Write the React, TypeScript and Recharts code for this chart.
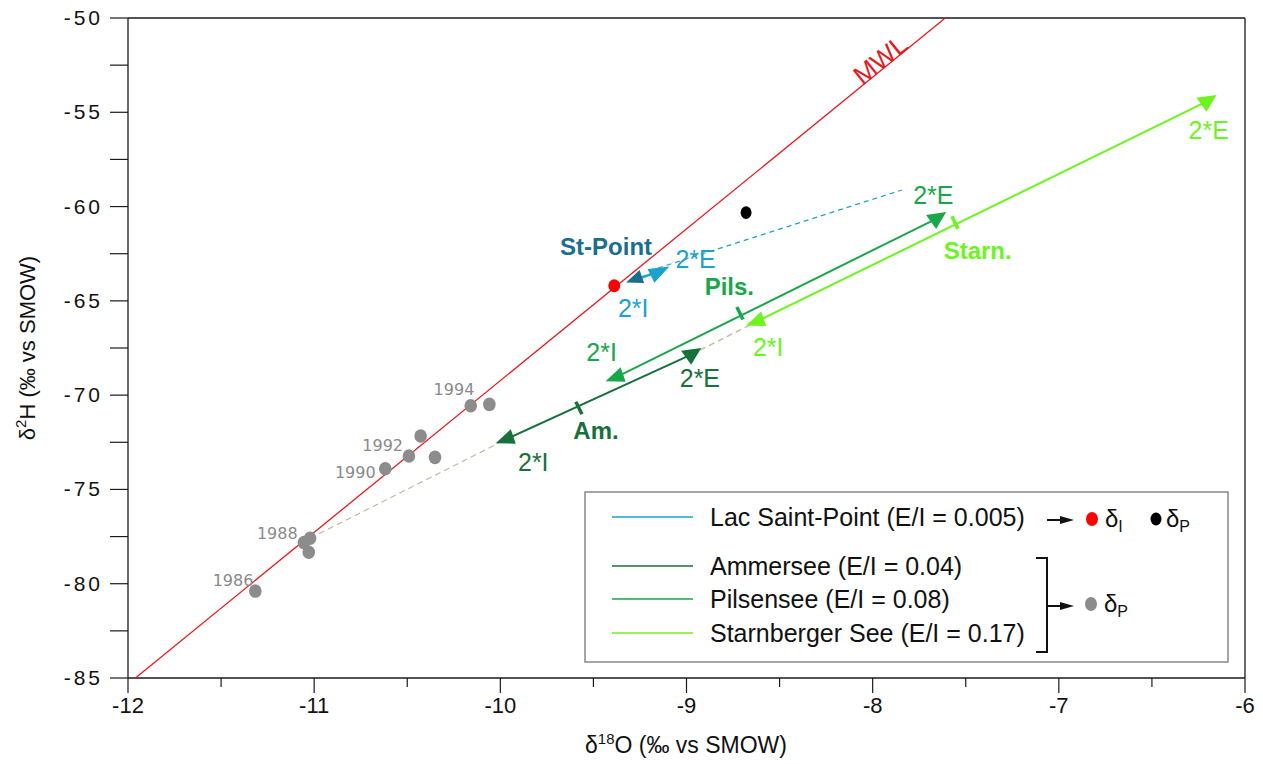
import React from "react";
import { ScatterChart, Scatter, XAxis, YAxis, ReferenceLine } from "recharts";

// δ18O (o) / δ2H (h) pairs
const xTicks = [-12, -11.5, -11, -10.5, -10, -9.5, -9, -8.5, -8, -7.5, -7, -6.5, -6];
const yTicks = [-85, -82.5, -80, -77.5, -75, -72.5, -70, -67.5, -65, -62.5, -60, -57.5, -55, -52.5, -50];

const mwl = [{ o: -11.96, h: -85 }, { o: -7.61, h: -50 }];

// yearly precipitation (δP) of the Bavarian lakes
const precip = [
  { o: -11.316, h: -80.39 },
  { o: -11.055, h: -77.82 },
  { o: -11.022, h: -77.59 },
  { o: -11.029, h: -78.33 },
  { o: -10.618, h: -73.9 },
  { o: -10.491, h: -73.23 },
  { o: -10.351, h: -73.3 },
  { o: -10.428, h: -72.17 },
  { o: -10.159, h: -70.56 },
  { o: -10.059, h: -70.49 },
];
const precipYears = [
  { o: -11.436, h: -79.8, text: "1986" },
  { o: -11.198, h: -77.33, text: "1988" },
  { o: -10.779, h: -74.11, text: "1990" },
  { o: -10.632, h: -72.66, text: "1992" },
  { o: -10.249, h: -69.69, text: "1994" },
];

// Lac Saint-Point
const stPointInput = [{ o: -9.388, h: -64.2 }];
const stPointPrecip = [{ o: -8.68, h: -60.32 }];
const stPointLine = [{ o: -9.3, h: -63.95 }, { o: -9.13, h: -63.4 }];
const stPointI = [{ o: -9.268, h: -63.81 }];
const stPointE = [{ o: -9.16, h: -63.55 }];
const stPointDash = [{ o: -9.153, h: -63.26 }, { o: -7.843, h: -59.12 }];

// Bavarian lakes: 2*I end, 2*E end, lake value
const ammersee = [{ o: -9.962, h: -72.31 }, { o: -8.975, h: -67.85 }];
const ammerseeLake = [{ o: -9.578, h: -70.68 }];
const pilsensee = [{ o: -9.372, h: -69.02 }, { o: -7.659, h: -60.65 }];
const pilsenseeLake = [{ o: -8.713, h: -65.66 }];
const starnberg = [{ o: -8.617, h: -66.07 }, { o: -6.207, h: -54.44 }];
const starnbergLake = [{ o: -7.558, h: -60.85 }];

const greyDashA = [{ o: -11.022, h: -77.59 }, { o: -9.962, h: -72.31 }];
const greyDashB = [{ o: -8.975, h: -67.85 }, { o: -8.617, h: -66.07 }];

const endLabels = [
  { o: -8.951, h: -62.78, text: "2*E", lake: "stp" },
  { o: -9.286, h: -65.39, text: "2*I", lake: "stp" },
  { o: -7.674, h: -59.39, text: "2*E", lake: "pils" },
  { o: -9.456, h: -67.7, text: "2*I", lake: "pils" },
  { o: -8.928, h: -69.11, text: "2*E", lake: "amm" },
  { o: -9.823, h: -73.53, text: "2*I", lake: "amm" },
  { o: -8.561, h: -67.43, text: "2*I", lake: "starn" },
  { o: -6.195, h: -55.94, text: "2*E", lake: "starn" },
];
const lakeNames = [
  { o: -9.432, h: -62.13, text: "St-Point", lake: "stpName" },
  { o: -8.77, h: -64.25, text: "Pils.", lake: "pils" },
  { o: -9.486, h: -71.85, text: "Am.", lake: "amm" },
  { o: -7.436, h: -62.3, text: "Starn.", lake: "starn" },
];
const mwlLabel = [{ o: -7.96, h: -52.2, text: "MWL" }];

const legendRows = [
  { name: "Lac Saint-Point (E/I = 0.005)", lake: "stp" },
  { name: "Ammersee (E/I = 0.04)", lake: "amm" },
  { name: "Pilsensee (E/I = 0.08)", lake: "pils" },
  { name: "Starnberger See (E/I = 0.17)", lake: "starn" },
];

const COLORS: Record<string, string> = {
  stp: "#1ba3cc",
  stpName: "#1b6f8c",
  amm: "#18703a",
  pils: "#1aa64b",
  starn: "#6df41f",
};
const RED = "#e5191e";
const GREY = "#8c8c8c";
const AXIS = "#1a1a1a";
const SANS = "'Liberation Sans', Arial, sans-serif";
const NARROW = "'Liberation Sans Narrow', 'Liberation Sans', Arial, sans-serif";

const noDot = () => <g />;

const dot = (color: string, rx: number, ry: number) => (p: any) =>
  <ellipse cx={p.cx} cy={p.cy} rx={rx} ry={ry} fill={color} />;

const poly = (color: string, shape: number[][], k: number) => (p: any) => {
  const pts = shape.map(([dx, dy]) => `${p.cx + dx * k},${p.cy + dy * k}`).join(" ");
  return <polygon points={pts} fill={color} />;
};

// arrowhead at the 2*I end (points down-left along the line)
const arrowI = (color: string, k = 1.12) => poly(color, [[-10.5, 4], [3, -8.5], [7.5, 4.5]], k);
// arrowhead at the 2*E end
const arrowE = (color: string, k = 1.12) => poly(color, [[-9, -3.5], [9, -6], [0, 9]], k);
const arrowRight = (color: string, k = 1) => poly(color, [[-8, -4], [11, -6], [-2, 8]], k);

// short bar across the line, marking the lake composition
const crossTick = (color: string, angle: number) => (p: any) => {
  const a = (angle * Math.PI) / 180;
  const dx = Math.sin(a) * 7;
  const dy = Math.cos(a) * 7;
  return <line x1={p.cx - dx} y1={p.cy - dy} x2={p.cx + dx} y2={p.cy + dy} stroke={color} strokeWidth={3.5} />;
};

const label = (size: number, weight: number, family: string, fixed?: string) => (p: any) => (
  <text
    x={p.cx}
    y={p.cy}
    dy="0.36em"
    textAnchor="middle"
    fontSize={size}
    fontWeight={weight}
    fontFamily={family}
    fill={fixed || COLORS[p.payload.lake]}
  >
    {p.payload.text}
  </text>
);

const mwlText = (p: any) => (
  <text
    x={p.cx}
    y={p.cy}
    dy="0.36em"
    textAnchor="middle"
    fontSize={26}
    fontFamily={SANS}
    fill={RED}
    transform={`rotate(-39 ${p.cx} ${p.cy})`}
  >
    {p.payload.text}
  </text>
);

const XTick = (p: any) => {
  const v = p.payload.value;
  const major = Number.isInteger(v);
  return (
    <g>
      <line x1={p.x} x2={p.x} y1={p.y} y2={p.y + (major ? 15 : 9)} stroke={AXIS} strokeWidth={1.2} />
      {major && (
        <text x={p.x} y={p.y + 35} textAnchor="middle" fontSize={22} fontFamily={NARROW} fill="#111">
          {v}
        </text>
      )}
    </g>
  );
};

const YTick = (p: any) => {
  const v = p.payload.value;
  const major = v % 5 === 0;
  return (
    <g>
      <line x1={p.x - 18} x2={p.x} y1={p.y} y2={p.y} stroke={AXIS} strokeWidth={1.2} />
      {major && (
        <text x={p.x - 25} y={p.y + 7} textAnchor="end" fontSize={21} letterSpacing={3} fontFamily={SANS} fill="#111">
          {v}
        </text>
      )}
    </g>
  );
};

const XTitle = () => (
  <text x={686} y={753} textAnchor="middle" fontSize={23} fontFamily={NARROW} fill="#111">
    δ<tspan dy={-9} fontSize={15}>18</tspan>
    <tspan dy={9}>O (‰ vs SMOW)</tspan>
  </text>
);

const YTitle = () => (
  <text x={0} y={0} textAnchor="middle" fontSize={22} fontFamily={SANS} fill="#111" transform="translate(35 348) rotate(-90)">
    δ<tspan dy={-9} fontSize={15}>2</tspan>
    <tspan dy={9}>H (‰ vs SMOW)</tspan>
  </text>
);

const Legend = () => {
  const rowY = [26, 75, 108, 142];
  return (
    <svg
      width={645}
      height={172}
      style={{ position: "absolute", left: 584, top: 491 }}
      fontFamily={SANS}
    >
      <rect x={1} y={1} width={643} height={170} fill="#fff" stroke="#888" strokeWidth={1.5} />
      {legendRows.map((r, i) => (
        <g key={r.name}>
          <line x1={28} x2={109} y1={rowY[i]} y2={rowY[i]} stroke={COLORS[r.lake]} strokeWidth={1.6} />
          <text x={126} y={rowY[i] + 9} fontSize={25} fill="#111">
            {r.name}
          </text>
        </g>
      ))}
      {/* Lac Saint-Point → δI, δP */}
      <line x1={463} x2={478} y1={29} y2={29} stroke="#111" strokeWidth={2} />
      <polygon points="476,25 490,29 476,33" fill="#111" />
      <ellipse cx={508} cy={28} rx={6} ry={7} fill="red" />
      <text x={521} y={36} fontSize={24} fill="#111">
        δ<tspan dy={5} fontSize={16}>I</tspan>
      </text>
      <ellipse cx={572} cy={28} rx={5.5} ry={6.5} fill="#000" />
      <text x={582} y={36} fontSize={24} fill="#111">
        δ<tspan dy={5} fontSize={16}>P</tspan>
      </text>
      {/* bracket for the Bavarian lakes */}
      <polyline points="452,67 463,67 463,161 452,161" fill="none" stroke="#111" strokeWidth={2} />
      <line x1={463} x2={478} y1={115} y2={115} stroke="#111" strokeWidth={2} />
      <polygon points="476,111 490,115 476,119" fill="#111" />
      <ellipse cx={507} cy={113} rx={6} ry={7} fill={GREY} />
      <text x={520} y={121} fontSize={24} fill="#111">
        δ<tspan dy={5} fontSize={16}>P</tspan>
      </text>
    </svg>
  );
};

export default function App() {
  return (
    <div style={{ position: "absolute", left: 0, top: 0, width: 1263, height: 764, background: "#fff" }}>
      <ScatterChart width={1263} height={764} margin={{ top: 18, right: 18, bottom: 26, left: 28 }}>
        <XAxis
          type="number"
          dataKey="o"
          domain={[-12, -6]}
          ticks={xTicks}
          interval={0}
          height={60}
          tickSize={0}
          tickMargin={0}
          tickLine={false}
          tick={<XTick />}
          axisLine={{ stroke: AXIS, strokeWidth: 1.3 }}
          allowDataOverflow
          label={<XTitle />}
        />
        <YAxis
          type="number"
          dataKey="h"
          domain={[-85, -50]}
          ticks={yTicks}
          interval={0}
          width={100}
          tickSize={0}
          tickMargin={0}
          tickLine={false}
          tick={<YTick />}
          axisLine={{ stroke: AXIS, strokeWidth: 1.3 }}
          allowDataOverflow
          label={<YTitle />}
        />
        <ReferenceLine y={-50} stroke={AXIS} strokeWidth={1.3} />
        <ReferenceLine x={-6} stroke={AXIS} strokeWidth={1.3} />

        <Scatter data={greyDashA} line={{ stroke: "#bdb9a0", strokeWidth: 1.2, strokeDasharray: "6 4" }} fill="#bdb9a0" shape={noDot} isAnimationActive={false} />
        <Scatter data={greyDashB} line={{ stroke: "#bdb9a0", strokeWidth: 1.2, strokeDasharray: "6 4" }} fill="#bdb9a0" shape={noDot} isAnimationActive={false} />
        <Scatter data={stPointDash} line={{ stroke: COLORS.stp, strokeWidth: 1.2, strokeDasharray: "5 4" }} fill={COLORS.stp} shape={noDot} isAnimationActive={false} />
        <Scatter data={mwl} line={{ stroke: RED, strokeWidth: 1.3 }} fill={RED} shape={noDot} isAnimationActive={false} />

        <Scatter data={ammersee} line={{ stroke: COLORS.amm, strokeWidth: 2 }} fill={COLORS.amm} shape={noDot} isAnimationActive={false} />
        <Scatter data={pilsensee} line={{ stroke: COLORS.pils, strokeWidth: 2 }} fill={COLORS.pils} shape={noDot} isAnimationActive={false} />
        <Scatter data={starnberg} line={{ stroke: COLORS.starn, strokeWidth: 2 }} fill={COLORS.starn} shape={noDot} isAnimationActive={false} />
        <Scatter data={stPointLine} line={{ stroke: COLORS.stp, strokeWidth: 2.5 }} fill={COLORS.stp} shape={noDot} isAnimationActive={false} />

        <Scatter data={ammersee.slice(0, 1)} shape={arrowI(COLORS.amm)} isAnimationActive={false} />
        <Scatter data={ammersee.slice(1)} shape={arrowE(COLORS.amm)} isAnimationActive={false} />
        <Scatter data={pilsensee.slice(0, 1)} shape={arrowI(COLORS.pils)} isAnimationActive={false} />
        <Scatter data={pilsensee.slice(1)} shape={arrowE(COLORS.pils)} isAnimationActive={false} />
        <Scatter data={starnberg.slice(0, 1)} shape={arrowI(COLORS.starn)} isAnimationActive={false} />
        <Scatter data={starnberg.slice(1)} shape={arrowE(COLORS.starn)} isAnimationActive={false} />
        <Scatter data={stPointI} shape={arrowI(COLORS.stpName, 1)} isAnimationActive={false} />
        <Scatter data={stPointE} shape={arrowRight(COLORS.stp, 1.15)} isAnimationActive={false} />

        <Scatter data={ammerseeLake} shape={crossTick(COLORS.amm, 26)} isAnimationActive={false} />
        <Scatter data={pilsenseeLake} shape={crossTick(COLORS.pils, 26)} isAnimationActive={false} />
        <Scatter data={starnbergLake} shape={crossTick(COLORS.starn, 26)} isAnimationActive={false} />

        <Scatter data={precip} shape={dot(GREY, 6.3, 6.8)} isAnimationActive={false} />
        <Scatter data={stPointInput} shape={dot("#ff0000", 6, 6.5)} isAnimationActive={false} />
        <Scatter data={stPointPrecip} shape={dot("#000", 5.5, 6.3)} isAnimationActive={false} />

        <Scatter data={precipYears} shape={label(16, 400, "'DejaVu Sans', Verdana, sans-serif", "#8a8a8a")} isAnimationActive={false} />
        <Scatter data={endLabels} shape={label(25, 400, SANS)} isAnimationActive={false} />
        <Scatter data={lakeNames} shape={label(24, 700, SANS)} isAnimationActive={false} />
        <Scatter data={mwlLabel} shape={mwlText} isAnimationActive={false} />
      </ScatterChart>
      <Legend />
    </div>
  );
}
